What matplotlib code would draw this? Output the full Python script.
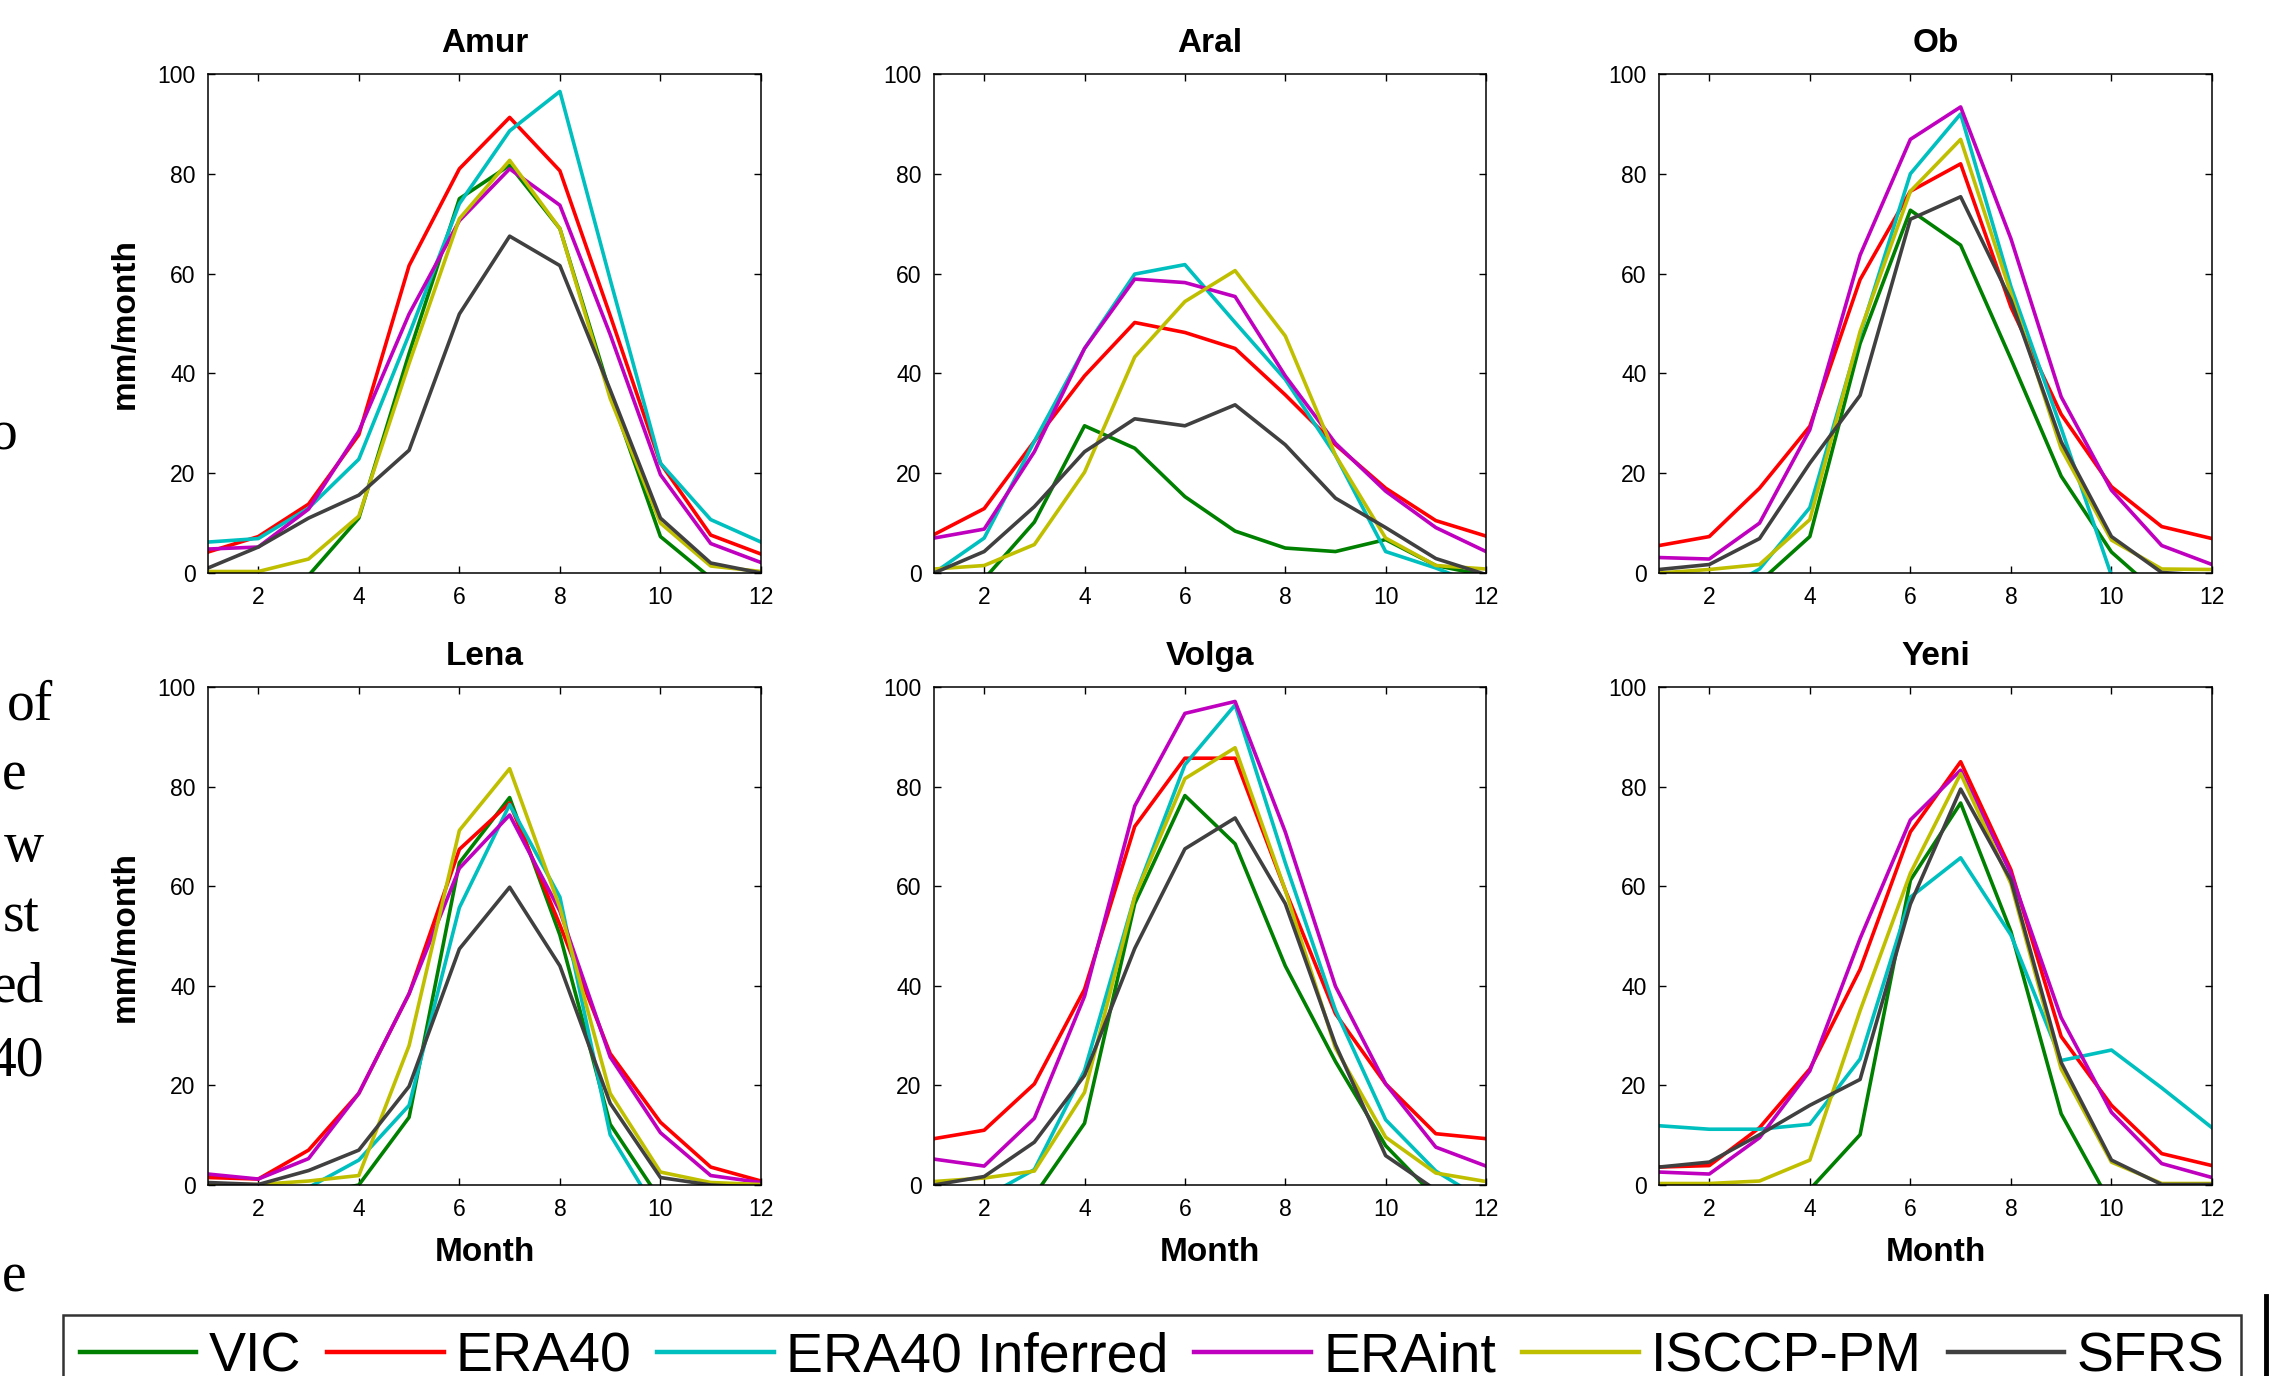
import matplotlib
matplotlib.use("Agg")
import matplotlib.pyplot as plt
from matplotlib.lines import Line2D

plt.rcParams['font.family'] = ['Liberation Sans', 'DejaVu Sans']

W, H = 2286, 1376

months = list(range(1, 13))
products = ['VIC', 'ERA40', 'ERA40 Inferred', 'ERAint', 'ISCCP-PM', 'SFRS']
colors = ['#008000', '#ff0000', '#00bfbf', '#bf00bf', '#bfbf00', '#404040']
basins = ['Amur', 'Aral', 'Ob', 'Lena', 'Volga', 'Yeni']

# monthly values (mm/month)
amur = {
    'VIC':            [-3, -2, -0.5, 11, 44, 75, 81.7, 69, 36, 7.3, -1, -2],
    'ERA40':          [4.2, 7.3, 13.8, 27.7, 61.6, 81, 91.3, 80.6, 51.6, 22, 7.6, 3.8],
    'ERA40 Inferred': [6.2, 6.9, 13, 22.8, 47.8, 74, 88.6, 96.5, 58.8, 22, 10.7, 6.2],
    'ERAint':         [4.8, 5.2, 12.8, 28.4, 51.9, 70.6, 81, 73.7, 47.8, 19.7, 5.9, 2.1],
    'ISCCP-PM':       [0.3, 0.3, 2.8, 11.4, 42, 71, 82.7, 69, 35, 10, 1.4, 0.3],
    'SFRS':           [1, 5.2, 11, 15.6, 24.6, 51.9, 67.5, 61.6, 36.7, 11, 2, 0],
}
aral = {
    'VIC':            [-2, -1.2, 10.2, 29.5, 25, 15.3, 8.4, 5, 4.3, 6.7, 1.5, -0.5],
    'ERA40':          [7.7, 12.9, 26.4, 39.5, 50.2, 48.2, 45, 35.7, 25.7, 17, 10.5, 7.4],
    'ERA40 Inferred': [0, 7, 26.4, 45, 59.9, 61.8, 50.2, 38.8, 23.6, 4.3, 1.0, -3],
    'ERAint':         [7, 8.8, 24.3, 45, 58.9, 58.2, 55.4, 39.5, 26, 16.4, 9.1, 4.3],
    'ISCCP-PM':       [0.8, 1.5, 5.7, 20.2, 43.3, 54.4, 60.6, 47.5, 23.6, 7, 1.5, 0.8],
    'SFRS':           [0, 4.3, 13.3, 24.3, 30.9, 29.5, 33.7, 25.7, 15, 9.1, 2.9, -0.3],
}
ob = {
    'VIC':            [-2, -2, -1.8, 7.3, 46, 72.7, 65.7, 42.9, 19.4, 4.2, -4.7, -4],
    'ERA40':          [5.5, 7.3, 17, 29.4, 58.8, 76.5, 82, 53.3, 31.8, 17.3, 9.3, 6.9],
    'ERA40 Inferred': [-5, -5, 0.8, 13.1, 47.8, 80, 92, 57.4, 29, -0.5, -3, -3],
    'ERAint':         [3.1, 2.8, 10, 28.7, 63.7, 86.9, 93.4, 67, 35.3, 16.6, 5.5, 1.7],
    'ISCCP-PM':       [0, 0.7, 1.7, 10.7, 48.4, 76.5, 86.9, 56, 24.9, 6.6, 0.8, 0.7],
    'SFRS':           [0.7, 1.7, 6.9, 22, 35.6, 70.9, 75.4, 54.7, 26.3, 7.3, 0.1, -0.5],
}
lena = {
    'VIC':            [-2, -2, -2, 0, 13.6, 64.7, 77.8, 50.2, 12.2, -3, -3, -3],
    'ERA40':          [1.5, 1.2, 7, 18.4, 38.4, 67.4, 76.7, 52.2, 26.4, 12.6, 3.6, 0.8],
    'ERA40 Inferred': [-3, -3, -0.5, 5, 16, 55.7, 76.4, 57.8, 10.1, -6.5, -6.5, -6.5],
    'ERAint':         [2.2, 1.2, 5.3, 18.4, 38.4, 63.6, 74.3, 55, 25.7, 10.5, 1.9, 0.5],
    'ISCCP-PM':       [0.1, 0.1, 0.8, 1.9, 28, 71.2, 83.6, 55.7, 18.4, 2.6, 0.5, 0.1],
    'SFRS':           [0.5, 0.1, 2.9, 7, 19.8, 47.4, 59.8, 44, 16.4, 1.5, 0, -0.5],
}
volga = {
    'VIC':            [-2, -2, -2.1, 12.4, 56.5, 78.2, 68.5, 44, 24.8, 7.9, -2.5, -2.5],
    'ERA40':          [9.3, 11, 20.3, 39.3, 72, 85.7, 85.7, 59.2, 34.4, 20.3, 10.3, 9.3],
    'ERA40 Inferred': [-2.5, -2.5, 3.1, 23, 57.9, 84.4, 96.4, 64.7, 35.1, 13.1, 2.8, -3.4],
    'ERAint':         [5.2, 3.8, 13.4, 37.9, 76.1, 94.7, 97.1, 70.9, 39.9, 20.3, 7.6, 3.8],
    'ISCCP-PM':       [0.7, 1.4, 2.8, 18.6, 57.9, 81.6, 87.8, 59.2, 27.5, 9.6, 2.4, 0.7],
    'SFRS':           [0, 1.7, 8.6, 22, 47.5, 67.5, 73.7, 56.5, 28.2, 5.9, -1, -1],
}
yeni = {
    'VIC':            [-2, -2, -2, -0.9, 10.1, 61.2, 76.7, 50.9, 14.3, -4, -4, -4],
    'ERA40':          [3.6, 3.9, 11.5, 23.3, 43.3, 70.9, 85, 63.3, 29.8, 16, 6.3, 3.9],
    'ERA40 Inferred': [11.9, 11.2, 11.2, 12.2, 25.3, 57.8, 65.7, 50.2, 25, 27.1, 19.5, 11.5],
    'ERAint':         [2.6, 2.2, 9.5, 22.9, 49.5, 73.3, 83.3, 62.6, 33.6, 14.6, 4.3, 1.5],
    'ISCCP-PM':       [0.3, 0.3, 0.8, 5, 35, 62.6, 82.6, 60.5, 23.3, 4.6, 0.3, 0.3],
    'SFRS':           [3.6, 4.6, 10.1, 16, 21.2, 56.4, 79.5, 61.2, 24.6, 5, 0.1, 0.1],
}
basin_data = [amur, aral, ob, lena, volga, yeni]

# cut-off words from the page text on the left edge
margin_words = ['o', 'of', 'e', 'w', 'st', 'ed', '40', 'e']


def box(left, top, right, bottom):
    return [left / W, 1 - bottom / H, (right - left) / W, (bottom - top) / H]


fig = plt.figure(figsize=(W / 100, H / 100), dpi=100)

col_x = [(208, 761), (934, 1486), (1659, 2212)]
row_y = [(74, 573), (687, 1185)]

handles = []
for i, (name, data) in enumerate(zip(basins, basin_data)):
    r, c = divmod(i, 3)
    ax = fig.add_axes(box(col_x[c][0], row_y[r][0], col_x[c][1], row_y[r][1]))
    for p, col in zip(products, colors):
        ln, = ax.plot(months, data[p], color=col, lw=2.6, label=p)
        if i == 0:
            handles.append(ln)
    ax.set_xlim(1, 12)
    ax.set_ylim(0, 100)
    ax.set_xticks(range(2, 13, 2))
    ax.set_yticks(range(0, 101, 20))
    ax.tick_params(direction='in', top=True, right=True, length=5, width=1,
                   labelsize=16.5, pad=9)
    for s in ax.spines.values():
        s.set_linewidth(1.1)
    ax.set_title(name, fontsize=24, fontweight='bold', pad=16)
    if c == 0:
        ax.set_ylabel('mm/month', fontsize=24, fontweight='bold', labelpad=12)
    if r == 1:
        ax.set_xlabel('Month', fontsize=24, fontweight='bold', labelpad=12)

leg = fig.legend(handles=handles, labels=products, loc='upper left',
                 bbox_to_anchor=(63 / W, 1 - 1315 / H, (2241 - 63) / W, 0),
                 mode='expand', ncol=6, fontsize=40, frameon=True, fancybox=False,
                 borderaxespad=0, borderpad=0.3, handlelength=2.1,
                 handletextpad=0.22, columnspacing=0.4)
leg.get_frame().set_edgecolor('black')
leg.get_frame().set_linewidth(1.8)
for ln in leg.get_lines():
    ln.set_linewidth(3.2)

fig.add_artist(Line2D([2266 / W, 2266 / W], [0, 1 - 1296 / H], color='black', lw=3.5))

word_pos = [(18, 450), (53, 720), (26, 790), (44, 861), (40, 931), (44, 1001), (44, 1076), (26, 1292)]
for word, (x, y) in zip(margin_words, word_pos):
    fig.text(x / W, 1 - y / H, word, ha='right', va='baseline', fontsize=40,
             family=['Liberation Serif', 'DejaVu Serif'])

fig.savefig('out.png', dpi=100)
